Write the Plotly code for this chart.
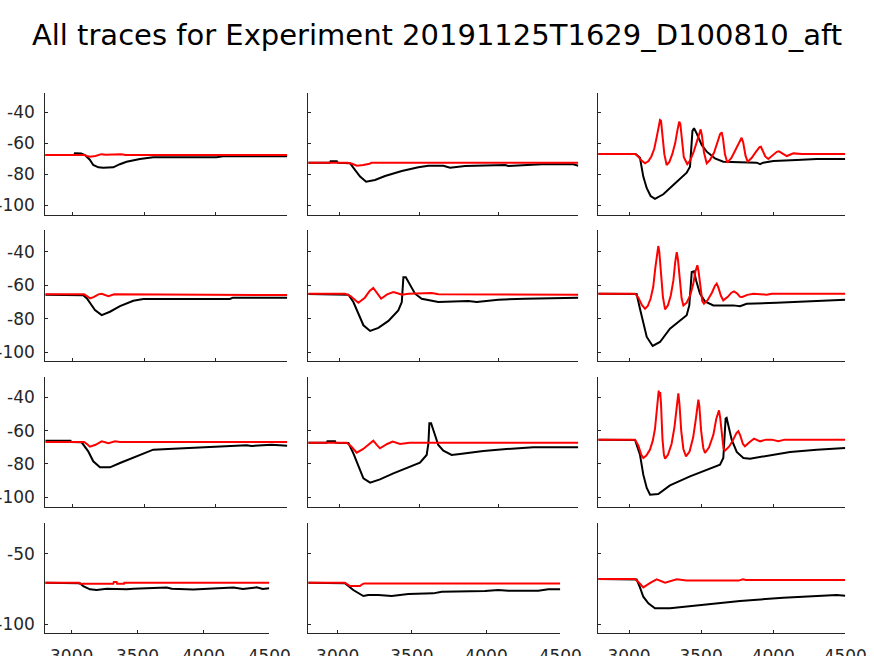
import plotly.graph_objects as go

# ---------------- data ----------------
title_text = "All traces for Experiment 20191125T1629_D100810_aft"

x_tickvals = [3000, 3500, 4000, 4500]
x_ticktext = ["3000", "3500", "4000", "4500"]
y_tickvals_main = [-100, -80, -60, -40]
y_ticktext_main = ["-100", "-80", "-60", "-40"]
y_tickvals_last = [-100, -50]
y_ticktext_last = ["-100", "-50"]

# row 1
r1c1_black_t = [2809, 3012, 3016, 3060, 3086, 3120, 3144, 3180, 3214, 3284, 3330, 3377, 3470, 3563, 4006, 4050, 4500]
r1c1_black_v = [-67.5, -67.5, -66.5, -66.6, -67.6, -70.6, -74.0, -75.5, -75.8, -75.5, -73.5, -71.9, -70.1, -69.0, -69.0, -68.4, -68.3]
r1c1_red_t = [2809, 3080, 3100, 3120, 3160, 3200, 3230, 3300, 3340, 3370, 4500]
r1c1_red_v = [-67.5, -67.5, -68.2, -68.6, -68.2, -67.0, -67.4, -67.4, -67.0, -67.5, -67.5]

r1c2_black_t = [2805, 2940, 2945, 2984, 2990, 3067, 3098, 3130, 3168, 3224, 3287, 3392, 3496, 3559, 3653, 3695, 3789, 4040, 4061, 4249, 4270, 4469, 4500]
r1c2_black_v = [-72.5, -72.5, -71.6, -71.6, -72.5, -72.8, -77.2, -81.5, -84.8, -83.7, -81.1, -77.9, -75.5, -74.5, -74.5, -75.7, -74.6, -74.0, -74.6, -74.0, -73.6, -73.6, -74.5]
r1c2_red_t = [2805, 3050, 3080, 3110, 3150, 3190, 3200, 4500]
r1c2_red_v = [-72.5, -72.5, -73.2, -74.5, -74.0, -73.2, -72.5, -72.5]

r1c3_black_t = [2787, 3045, 3076, 3099, 3123, 3150, 3180, 3238, 3307, 3400, 3423, 3430, 3440, 3451, 3469, 3504, 3539, 3596, 3654, 3886, 3909, 3930, 4001, 4163, 4302, 4500]
r1c3_black_v = [-66.9, -66.9, -69.4, -81.5, -89.0, -94.0, -95.9, -92.9, -86.9, -79.0, -75.1, -62.2, -52.0, -50.3, -53.6, -61.1, -65.4, -69.7, -71.9, -72.5, -73.4, -72.5, -71.4, -70.8, -70.1, -70.1]
r1c3_red_t = [2787, 3042, 3060, 3085, 3111, 3135, 3155, 3175, 3192, 3205, 3215, 3222, 3232, 3245, 3261,
              3280, 3300, 3320, 3335, 3348, 3356, 3366, 3380, 3404, 3425, 3450, 3470, 3485, 3497, 3506,
              3520, 3539, 3560, 3590, 3615, 3632, 3643, 3652, 3665, 3682, 3710, 3740, 3765, 3781, 3792,
              3808, 3823, 3850, 3880, 3905, 3915, 3928, 3945, 3966, 3995, 4025, 4040, 4060, 4094, 4120,
              4140, 4200, 4500]
r1c3_red_v = [-66.9, -66.9, -68.0, -71.0, -72.9, -71.5, -68.5, -63.5, -56.0, -48.5, -45.0, -45.5, -55.0, -67.0, -74.0,
              -72.0, -67.0, -60.0, -52.0, -46.0, -47.5, -58.0, -69.0, -73.4, -71.0, -65.0, -59.0, -53.5, -51.0, -55.0,
              -66.0, -72.9, -71.0, -66.0, -59.5, -54.0, -52.9, -57.0, -67.0, -72.5, -69.5, -64.0, -58.5, -56.4, -59.5,
              -68.0, -71.9, -69.5, -65.5, -62.5, -62.2, -64.5, -68.5, -70.1, -68.0, -65.5, -65.2, -66.5, -68.2, -67.2,
              -66.5, -66.9, -66.9]

# row 2
r2c1_black_t = [2809, 3074, 3100, 3121, 3156, 3203, 3261, 3331, 3424, 3494, 4099, 4120, 4500]
r2c1_black_v = [-65.8, -66.0, -68.0, -70.9, -74.9, -77.9, -75.9, -72.5, -69.3, -68.3, -68.3, -67.5, -67.5]
r2c1_red_t = [2809, 3080, 3100, 3121, 3150, 3180, 3203, 3250, 3290, 3500, 4500]
r2c1_red_v = [-65.5, -65.5, -66.5, -67.9, -67.0, -65.5, -65.2, -66.6, -65.5, -65.5, -65.9]

r2c2_black_t = [2805, 3057, 3088, 3119, 3151, 3193, 3245, 3308, 3370, 3392, 3399, 3402, 3417, 3444, 3475, 3517, 3621, 3810, 3862, 3998, 4165, 4500]
r2c2_black_v = [-65.3, -65.7, -70.1, -77.1, -84.0, -87.4, -85.6, -81.4, -75.1, -70.1, -62.1, -55.3, -55.3, -60.1, -65.1, -68.1, -70.1, -69.5, -70.1, -68.7, -68.1, -67.5]
r2c2_red_t = [2805, 3036, 3070, 3119, 3160, 3190, 3213, 3240, 3262, 3300, 3339, 3370, 3392, 3434, 3580, 3622, 4500]
r2c2_red_v = [-65.1, -65.1, -66.5, -70.5, -67.5, -63.5, -61.7, -65.5, -68.1, -65.5, -64.1, -65.0, -65.7, -65.1, -64.7, -65.5, -65.7]

r2c3_black_t = [2787, 3053, 3076, 3099, 3123, 3164, 3215, 3284, 3354, 3400, 3418, 3428, 3435, 3451, 3465, 3492, 3527, 3585, 3723, 3770, 3816, 4024, 4302, 4500]
r2c3_black_v = [-65.1, -65.3, -74.1, -82.0, -91.0, -96.4, -94.0, -86.0, -81.4, -78.0, -72.1, -60.1, -52.1, -51.7, -57.1, -65.1, -69.7, -72.1, -72.1, -72.6, -71.1, -70.5, -69.3, -68.7]
r2c3_red_t = [2787, 3042, 3065, 3090, 3111, 3130, 3150, 3168, 3182, 3195, 3203, 3210, 3220, 3235, 3250,
              3270, 3290, 3308, 3320, 3331, 3340, 3352, 3365, 3377, 3400, 3425, 3445, 3460, 3474, 3482,
              3495, 3508, 3520, 3545, 3575, 3595, 3608, 3620, 3638, 3654, 3685, 3710, 3728, 3750, 3770,
              3786, 3820, 3862, 3955, 3990, 4500]
r2c3_red_v = [-65.1, -65.1, -67.5, -72.0, -74.1, -72.5, -68.0, -61.0, -50.0, -39.5, -36.6, -40.0, -52.0, -67.0, -74.5,
              -72.0, -66.0, -57.0, -46.5, -40.2, -45.0, -58.0, -68.0, -72.1, -70.5, -66.0, -59.5, -52.0, -48.1, -51.5,
              -62.0, -69.5, -71.1, -69.0, -64.5, -60.5, -59.1, -61.5, -66.5, -69.1, -67.0, -64.5, -63.7, -65.0, -67.0,
              -67.1, -65.8, -65.1, -65.7, -65.1, -65.1]

# row 3
r3c1_black_t = [2809, 2985, 2990, 3063, 3109, 3144, 3191, 3261, 3331, 3424, 3563, 3703, 3937, 4216, 4250, 4389, 4500]
r3c1_black_v = [-66.0, -66.0, -66.8, -67.0, -72.4, -78.4, -82.0, -82.0, -79.4, -76.0, -71.4, -70.8, -69.8, -68.8, -69.2, -68.4, -69.0]
r3c1_red_t = [2809, 3080, 3100, 3121, 3160, 3203, 3250, 3297, 3330, 4500]
r3c1_red_v = [-66.8, -66.8, -68.0, -69.6, -68.5, -66.4, -67.6, -66.4, -66.8, -66.8]

r3c2_black_t = [2805, 2921, 2925, 2973, 2977, 3057, 3088, 3119, 3151, 3193, 3255, 3339, 3423, 3506, 3548, 3559, 3565, 3576, 3590, 3621, 3653, 3705, 3757, 3904, 4050, 4218, 4500]
r3c2_black_v = [-67.2, -67.2, -66.4, -66.4, -67.2, -67.4, -73.6, -81.6, -88.6, -91.2, -89.2, -85.6, -82.6, -79.2, -74.6, -67.6, -55.6, -55.6, -59.6, -68.6, -72.0, -74.6, -74.0, -72.2, -71.0, -70.0, -70.0]
r3c2_red_t = [2805, 3046, 3075, 3109, 3150, 3190, 3213, 3235, 3255, 3300, 3335, 3381, 3420, 3440, 4500]
r3c2_red_v = [-67.2, -67.2, -69.5, -73.2, -71.0, -67.5, -66.0, -68.5, -70.6, -68.0, -66.6, -68.0, -67.6, -67.2, -67.2]

r3c3_black_t = [2787, 3042, 3076, 3099, 3123, 3146, 3203, 3284, 3423, 3562, 3631, 3654, 3662, 3670, 3677, 3689, 3712, 3747, 3793, 3839, 3931, 4117, 4302, 4500]
r3c3_black_v = [-65.4, -65.6, -74.4, -86.4, -94.4, -98.4, -98.0, -92.8, -87.4, -82.4, -80.4, -76.4, -62.4, -52.8, -52.4, -57.4, -65.4, -72.8, -76.4, -76.8, -75.4, -72.8, -71.4, -70.4]
r3c3_red_t = [2787, 3042, 3065, 3085, 3099, 3120, 3145, 3165, 3180, 3192, 3200, 3206, 3211, 3216, 3222,
              3232, 3242, 3250, 3270, 3295, 3315, 3330, 3338, 3342, 3350, 3362, 3377, 3395, 3420, 3445,
              3462, 3474, 3481, 3488, 3500, 3515, 3527, 3555, 3585, 3605, 3617, 3624, 3632, 3645, 3655,
              3666, 3695, 3723, 3745, 3758, 3772, 3790, 3804, 3835, 3867, 3909, 3950, 3990, 4036, 4080,
              4500]
r3c3_red_v = [-65.4, -65.4, -69.0, -74.5, -76.4, -75.0, -71.5, -66.0, -59.0, -47.0, -38.5, -36.0, -39.5, -36.8, -44.0,
              -65.0, -74.5, -76.8, -74.5, -68.0, -58.0, -45.0, -38.5, -37.6, -44.0, -60.0, -71.0, -75.4, -72.5, -64.0,
              -54.0, -44.5, -41.4, -45.5, -60.0, -70.4, -73.4, -70.0, -62.5, -53.0, -48.5, -47.8, -52.0, -64.0, -70.5,
              -72.0, -69.5, -65.4, -61.5, -60.4, -63.0, -68.0, -69.4, -67.0, -64.8, -66.4, -65.4, -65.4, -66.4, -65.4,
              -65.4]

# row 4
r4c1_black_t = [2800, 3063, 3088, 3139, 3190, 3266, 3418, 3470, 3721, 3760, 3923, 4050, 4227, 4300, 4404, 4450, 4500]
r4c1_black_v = [-70.5, -70.8, -72.9, -75.2, -75.7, -74.8, -75.2, -74.8, -74.0, -74.8, -75.4, -74.8, -74.0, -74.9, -73.8, -74.9, -74.5]
r4c1_red_t = [2800, 3055, 3060, 3316, 3320, 3341, 3345, 3397, 3400, 4500]
r4c1_red_v = [-70.5, -70.5, -71.3, -71.3, -70.0, -70.0, -71.3, -71.3, -70.5, -70.5]

r4c2_black_t = [2802, 3049, 3105, 3139, 3173, 3206, 3274, 3364, 3476, 3644, 3701, 3993, 4082, 4150, 4352, 4419, 4500]
r4c2_black_v = [-70.5, -70.8, -75.7, -78.1, -80.0, -79.3, -79.3, -80.0, -78.6, -78.1, -76.9, -76.4, -75.7, -76.2, -76.2, -75.2, -75.2]
r4c2_red_t = [2802, 3049, 3083, 3150, 3165, 3180, 4500]
r4c2_red_v = [-70.5, -70.5, -72.9, -72.9, -71.6, -71.0, -71.0]

r4c3_black_t = [2787, 3053, 3076, 3099, 3134, 3180, 3284, 3492, 3770, 4070, 4302, 4440, 4500]
r4c3_black_v = [-67.9, -68.2, -73.8, -80.5, -85.2, -88.8, -88.8, -86.4, -83.6, -81.2, -80.0, -79.3, -79.8]
r4c3_red_t = [2787, 3042, 3070, 3099, 3150, 3192, 3250, 3331, 3400, 3760, 3790, 3810, 4500]
r4c3_red_v = [-67.9, -67.9, -70.5, -73.8, -70.5, -68.1, -70.5, -68.1, -69.0, -69.0, -68.1, -68.6, -68.6]

panels = {
    (1, 1): (r1c1_black_t, r1c1_black_v, r1c1_red_t, r1c1_red_v),
    (1, 2): (r1c2_black_t, r1c2_black_v, r1c2_red_t, r1c2_red_v),
    (1, 3): (r1c3_black_t, r1c3_black_v, r1c3_red_t, r1c3_red_v),
    (2, 1): (r2c1_black_t, r2c1_black_v, r2c1_red_t, r2c1_red_v),
    (2, 2): (r2c2_black_t, r2c2_black_v, r2c2_red_t, r2c2_red_v),
    (2, 3): (r2c3_black_t, r2c3_black_v, r2c3_red_t, r2c3_red_v),
    (3, 1): (r3c1_black_t, r3c1_black_v, r3c1_red_t, r3c1_red_v),
    (3, 2): (r3c2_black_t, r3c2_black_v, r3c2_red_t, r3c2_red_v),
    (3, 3): (r3c3_black_t, r3c3_black_v, r3c3_red_t, r3c3_red_v),
    (4, 1): (r4c1_black_t, r4c1_black_v, r4c1_red_t, r4c1_red_v),
    (4, 2): (r4c2_black_t, r4c2_black_v, r4c2_red_t, r4c2_red_v),
    (4, 3): (r4c3_black_t, r4c3_black_v, r4c3_red_t, r4c3_red_v),
}

# ---------------- layout geometry (pixels) ----------------
W, H = 874, 656
col_px_main = [(45.3, 287.3), (308.3, 578.3), (598.3, 845.3)]
col_px_last = [(45.3, 269.3), (308.3, 560.3), (598.3, 845.3)]
xr_main = [2809, 2805, 2787]
xr_last = [2800, 2802, 2787]
row_px = [(93.3, 215.0), (230.0, 360.7), (377.3, 507.0), (523.3, 633.3)]
yr = [(-106.3, -27.7), (-105.2, -27.0), (-105.8, -28.0), (-106.6, -28.1)]

AX = "#262626"
FONT = "DejaVu Sans"

fig = go.Figure()
layout = dict(
    width=W, height=H, autosize=False,
    margin=dict(l=0, r=0, t=0, b=0, pad=0, autoexpand=False),
    paper_bgcolor="white", plot_bgcolor="white",
    showlegend=False,
    title=dict(text=title_text, x=0.5, xanchor="center", y=1 - 35 / H, yanchor="middle",
               automargin=False, font=dict(family=FONT, size=29, color="black")),
    font=dict(family=FONT, color=AX),
)

idx = 0
for r in range(1, 5):
    for c in range(1, 4):
        idx += 1
        sfx = "" if idx == 1 else str(idx)
        bt, bv, rt, rv = panels[(r, c)]
        fig.add_trace(go.Scatter(x=bt, y=bv, mode="lines", line=dict(color="black", width=2),
                                 xaxis="x" + sfx, yaxis="y" + sfx, hoverinfo="skip"))
        fig.add_trace(go.Scatter(x=rt, y=rv, mode="lines", line=dict(color="red", width=2),
                                 xaxis="x" + sfx, yaxis="y" + sfx, hoverinfo="skip"))
        cp = col_px_last[c - 1] if r == 4 else col_px_main[c - 1]
        x0 = xr_last[c - 1] if r == 4 else xr_main[c - 1]
        rp = row_px[r - 1]
        layout["xaxis" + sfx] = dict(
            domain=[cp[0] / W, cp[1] / W], range=[x0, 4500], anchor="y" + sfx,
            tickmode="array", tickvals=x_tickvals, ticktext=x_ticktext, automargin=False,
            showticklabels=(r == 4), ticks="inside", ticklen=3, tickcolor=AX, tickwidth=1,
            showline=True, linecolor=AX, linewidth=1, showgrid=False, zeroline=False,
            tickfont=dict(family=FONT, size=17, color=AX), ticklabelstandoff=7,
        )
        if r == 4:
            yv, yt = y_tickvals_last, y_ticktext_last
        else:
            yv, yt = y_tickvals_main, y_ticktext_main
        layout["yaxis" + sfx] = dict(
            domain=[1 - rp[1] / H, 1 - rp[0] / H], range=list(yr[r - 1]), anchor="x" + sfx,
            tickmode="array", tickvals=yv, ticktext=yt, automargin=False,
            showticklabels=(c == 1), ticks="inside", ticklen=3, tickcolor=AX, tickwidth=1,
            showline=True, linecolor=AX, linewidth=1, showgrid=False, zeroline=False,
            tickfont=dict(family=FONT, size=17, color=AX), ticklabelstandoff=6,
        )

fig.update_layout(**layout)
fig.write_html(
    "out.html",
    config={"displayModeBar": False, "responsive": False},
    post_script="document.body.style.margin='0';document.body.style.overflow='hidden';",
)
